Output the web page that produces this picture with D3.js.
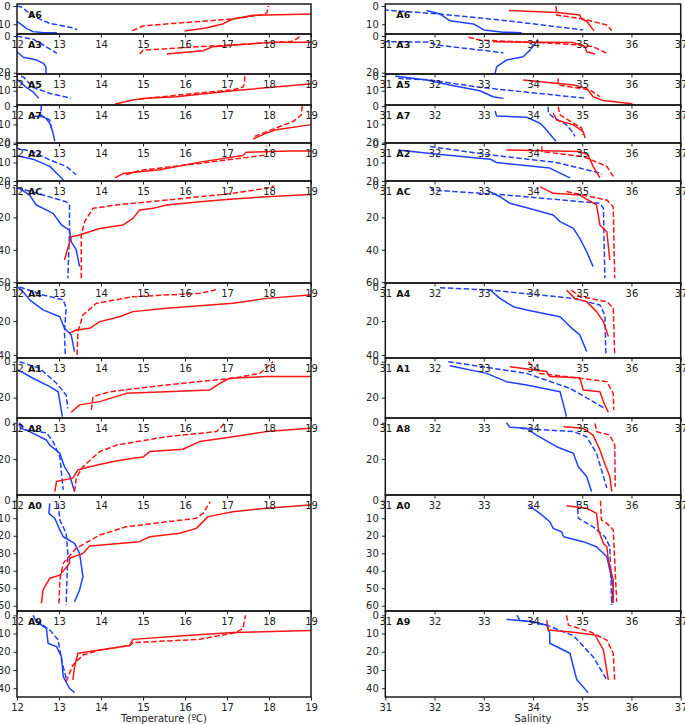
<!DOCTYPE html>
<html>
<head>
<meta charset="utf-8">
<script src="https://cdn.jsdelivr.net/npm/d3@7"></script>
<style>
  body { margin: 0; background: #fff; }
  svg text { font-family: "DejaVu Sans", sans-serif; }
</style>
</head>
<body>
<div id="chart"></div>
<script>
// station names, top to bottom
var stations = ["A6", "A3", "A5", "A7", "A2", "AC", "A4", "A1", "A8", "A0", "A9"];
// depth axis range of each panel (m, top -> bottom)
var depthMin = [-1.1, -1.1, -1.36, -0.55, -0.54, -2.5, -2.35, -2.05, -2.6, -3.26, -2.36];
var depthMax = [15.3, 20.7, 19.7, 20.2, 20, 60.5, 41.8, 31.3, 39.8, 63, 44.8];
var depthTicks = [[0, 10], [0, 20], [0, 10], [0, 10, 20], [0, 10, 20], [0, 20, 40, 60],
  [0, 20, 40], [0, 20], [0, 20], [0, 10, 20, 30, 40, 50, 60], [0, 10, 20, 30, 40]];
var tempTicks = [12, 13, 14, 15, 16, 17, 18, 19];
var salTicks = [31, 32, 33, 34, 35, 36, 37];

// profiles: [value, depth], one list per station in the order above
var tempBlueSolid = [
  [[11.9,7.5],[12.0,8.6],[12.1,10],[12.22,12.2],[12.38,14],[12.6,14.5],[12.95,14.6]],
  [[11.95,8],[12.03,9.1],[12.15,11.6],[12.47,13.1],[12.63,14.9],[12.69,17],[12.69,20.4]],
  [[11.95,1.5],[12.02,2.7],[12.22,7.7],[12.38,10.7],[12.52,15.2]],
  [[12.38,4],[12.38,5.4],[12.62,5.8],[12.7,7],[12.78,9.4],[12.85,14],[12.9,19.3]],
  [[11.95,6],[12.0,6.4],[12.38,8.2],[12.78,12.1],[12.98,16.6],[13.1,19.3],[13.15,20.5]],
  [[12.0,1.5],[12.06,2],[12.3,6.2],[12.46,12.3],[12.86,17.5],[13.06,24.7],[13.25,27.8],[13.29,35],[13.41,40],[13.49,50.4]],
  [[12.02,0],[12.15,3],[12.3,7.6],[12.62,13.5],[13.02,17.5],[13.13,24.3],[13.29,28.2],[13.37,38]],
  [[11.95,4.3],[12.02,4.6],[12.38,9.2],[12.78,13.9],[12.98,16.7],[13.02,22.2],[13.08,30.5]],
  [[12.06,0],[12.08,3],[12.3,4.9],[12.7,9.5],[12.78,12.3],[13.02,16.8],[13.13,24.2],[13.25,28.7],[13.37,37.9]],
  [[12.78,1.5],[12.76,7.2],[12.9,10],[13.02,16.7],[13.1,20.6],[13.37,24.4],[13.49,30.1],[13.57,43.4],[13.49,51],[13.37,57.7]],
  [[12.38,0],[12.46,3.5],[12.7,7.1],[12.74,15.3],[12.94,17.2],[13.06,22.7],[13.1,33.6],[13.25,40],[13.37,42.4]]
];
var tempBlueDashed = [
  [[12.0,0],[12.1,0.5],[12.38,5.5],[12.78,9.5],[13.29,11.7],[13.43,13]],
  [[12.0,0],[12.03,0.2],[12.39,1.8],[12.63,4.9],[12.95,9.5]],
  [[12.1,0],[12.16,0.9],[12.38,7.7],[12.78,11.8],[13.29,15.2]],
  [[12.58,0],[12.56,4.9],[12.78,7.6],[12.82,12]],
  [[11.95,2],[12.0,2.3],[12.38,4.1],[12.78,8.6],[13.17,12.1],[13.41,16.6]],
  [[12.0,1.8],[12.06,2],[12.62,6.2],[13.17,10.3],[13.25,12.3],[13.25,28.8],[13.21,57.6]],
  [[12.06,0],[12.62,4.7],[13.1,7.6],[13.17,12.5],[13.13,26.3],[13.15,40]],
  [[12.06,0],[12.54,3.7],[12.94,12],[13.17,18.5],[13.21,25.9]],
  [[12.06,0.5],[12.22,4],[12.7,5.5],[12.86,10.4],[13.02,18.7],[13.1,37]],
  [[12.98,1.5],[13.02,11],[13.17,18.6],[13.21,30.1],[13.17,59.6]],
  [[12.46,3],[12.78,8],[12.98,13.5],[13.06,24.5],[13.17,34.5]]
];
var tempRedSolid = [
  [[15.99,13.7],[16.5,12],[16.9,9.8],[17.14,7.1],[17.62,5.1],[18.5,4.6],[19.5,4.2]],
  [[15.56,9.8],[16.43,8],[16.67,5.8],[17.94,3.6],[19.5,3.3]],
  [[14.33,19],[14.76,16.3],[15.0,15.2],[15.79,14.1],[17.14,10],[18.97,5.4],[19.5,4.2]],
  [[17.62,18],[17.94,14.8],[18.17,13],[18.97,10.3],[19.5,9]],
  [[14.33,18.3],[14.52,16],[15.4,13.9],[16.35,9.8],[17.38,6.2],[17.46,4.5],[18.5,3.8],[19.5,3.7]],
  [[13.13,46.3],[13.29,31.9],[13.49,30.9],[13.97,26.8],[14.52,24.7],[14.76,20.6],[14.92,15.4],[15.24,14.4],[15.56,12.3],[16.35,10.3],[17.14,8.6],[17.94,7.2],[18.97,5.8],[19.5,5.5]],
  [[13.25,27.2],[13.41,25.3],[13.73,24.3],[13.97,20.4],[14.44,17.5],[14.76,14.5],[15.56,12.5],[17.14,9.6],[17.94,6.7],[18.97,4.7],[19.5,4]],
  [[13.29,28.1],[13.49,24],[13.97,22.2],[14.6,17.6],[15.56,16.7],[16.59,15.7],[16.83,12],[17.06,9.2],[17.94,8.3],[19.5,8.2]],
  [[12.9,37.9],[12.94,32.4],[13.33,30.5],[13.45,26],[13.73,24.2],[14.29,21.4],[14.76,19.6],[15.0,18.9],[15.16,15.9],[15.95,14.6],[16.35,10.4],[17.14,7.7],[17.94,4.9],[18.97,3.1],[19.5,2.8]],
  [[12.58,58.6],[12.62,51],[12.78,44.3],[13.02,42.5],[13.25,35.8],[13.25,32.9],[13.57,30.1],[13.73,25.9],[14.92,23.4],[15.16,20.6],[15.87,18.6],[16.27,15.8],[16.55,9.1],[17.14,6.3],[17.94,4.3],[18.97,2.5],[19.5,2.2]],
  [[13.33,35.4],[13.37,28.2],[13.45,20.8],[13.97,19],[14.68,16.6],[14.76,13.2],[15.95,11.2],[17.14,9.4],[18.97,8.4],[19.5,8.2]]
];
var tempRedDashed = [
  [[14.75,13.5],[15.0,10.9],[15.56,9.8],[17.14,7.1],[17.86,4.7],[17.95,3.6],[17.99,0]],
  [[14.92,9.8],[15.0,7.7],[16.35,5.8],[18.57,2.9],[18.75,0]],
  [[14.9,15.8],[15.3,14.5],[16.0,12.5],[17.15,9.3],[17.38,7.5],[17.42,5],[17.42,0]],
  [[17.66,16.6],[17.94,14],[18.57,8.5],[18.77,4.9],[18.79,0]],
  [[14.6,16.6],[14.92,14.3],[16.35,10.5],[17.94,5.9],[17.94,0.9]],
  [[13.53,57.6],[13.53,30.9],[13.61,22.6],[13.81,14.4],[14.37,12.3],[15.56,9.3],[17.14,5.1],[17.94,2],[18.13,0.5]],
  [[13.43,40],[13.45,26.3],[13.57,16.5],[13.89,9.6],[14.76,5.7],[16.35,3.7],[16.71,1.8],[16.75,0]],
  [[13.77,26.8],[13.81,19.4],[14.21,16.7],[15.56,12.9],[17.14,9.2],[17.78,6.5],[18.1,0]],
  [[13.37,37.9],[13.41,30.5],[13.57,24.2],[13.97,15.9],[14.37,12.3],[15.56,7.7],[16.75,4.9],[16.94,0.4]],
  [[13.0,58.6],[13.02,45.3],[13.1,35.8],[13.41,27.2],[13.97,19.6],[14.6,14.9],[16.27,10],[16.43,7.2],[16.6,0.6]],
  [[13.17,36.4],[13.33,27.3],[13.57,21.8],[13.97,19],[14.68,16.6],[14.76,15],[16.35,13.2],[17.22,9.4],[17.38,7.1],[17.44,0]]
];
var salBlueSolid = [
  [[31.84,2.5],[32.11,4.4],[32.31,8],[32.79,9.8],[33.0,13.1],[33.4,14.3],[33.77,14.6]],
  [[34.1,1.8],[34.07,3.1],[33.94,7.7],[33.8,11.3],[33.46,13.1],[33.26,16.8],[33.23,20.4]],
  [[31.2,0],[31.84,2.7],[32.31,6.1],[32.92,10],[33.19,14.1],[33.4,15.2]],
  [[33.23,2.7],[33.26,5.4],[33.87,6.1],[34.14,9.4],[34.24,12],[34.41,17.5],[34.47,19.3]],
  [[31.26,3.2],[31.97,5.3],[33.13,8.2],[33.26,10],[34.34,13],[34.75,18.3]],
  [[33.06,3.1],[33.33,7.2],[33.53,11.3],[33.8,13.4],[34.41,18.5],[34.55,22.6],[34.82,26.8],[34.95,32.9],[35.09,41.2],[35.22,50.4]],
  [[33.13,1.8],[33.33,6.7],[33.6,11.6],[33.87,13.5],[34.55,17.5],[34.75,23.3],[34.95,28.2],[35.09,38]],
  [[32.31,2.2],[33.06,6.5],[33.46,11.1],[33.87,12.9],[34.55,16.7],[34.62,24],[34.68,30.5]],
  [[33.46,0],[33.53,2.5],[33.87,3.1],[34.07,6.8],[34.48,13.2],[34.82,16.8],[34.92,24.2],[35.09,29.6],[35.19,37.9]],
  [[33.9,2.5],[34.14,7.2],[34.34,12],[34.41,15.8],[34.58,17.7],[34.62,20.6],[35.02,23.4],[35.29,26.3],[35.5,32],[35.56,39.7],[35.63,49.1],[35.6,58.6]],
  [[33.46,2.2],[34.01,3.5],[34.28,5.4],[34.34,9.9],[34.34,15.3],[34.75,20.8],[34.82,28.2],[34.89,35.4],[35.12,42.4]]
];
var salBlueDashed = [
  [[30.8,2],[31.0,2.2],[32.11,4.4],[33.46,8],[35.02,13.1]],
  [[30.8,3],[31.0,3.1],[31.9,3.3],[32.04,4.9],[33.4,9.1]],
  [[31.26,1.6],[31.91,2.7],[32.92,7.7],[35.09,15.2]],
  [[34.31,0.4],[34.31,3.8],[34.41,6.1],[34.68,10.3],[34.82,14.8],[34.85,16.6]],
  [[31.91,1.4],[33.13,5.9],[34.48,10],[35.36,15.7],[35.39,16.6]],
  [[31.91,1],[31.97,3.1],[33.46,6.2],[35.36,11.3],[35.43,14.4],[35.46,57.6]],
  [[32.11,0.4],[33.13,1.8],[34.82,6.7],[35.36,10.6],[35.46,16.5],[35.48,40]],
  [[32.28,0],[33.87,6.5],[34.75,14.8],[35.43,25.5]],
  [[33.74,3.1],[34.82,4.9],[35.09,7.7],[35.29,16.8],[35.5,36]],
  [[34.9,0],[34.92,10],[35.22,14.9],[35.46,20.6],[35.56,26.3],[35.6,59.6]],
  [[33.67,0],[33.74,2.7],[34.28,5.4],[34.82,11.2],[35.22,22.7],[35.5,35.4]]
];
var salRedSolid = [
  [[33.51,2.5],[34.5,3.5],[34.95,4.9],[34.99,7.1],[35.09,8.3],[35.24,13.6]],
  [[33.19,3.1],[34.82,3.6],[35.06,5.8],[35.09,8.6],[35.26,9.8]],
  [[33.8,2.7],[34.82,6.1],[35.09,8.4],[35.22,14.1],[35.43,16.7],[35.97,18.6],[36.02,19]],
  [[34.41,3.8],[34.48,7.6],[34.82,10.3],[35.02,14],[35.06,17.5]],
  [[33.46,3.2],[34.95,4.1],[35.12,5.9],[35.22,12.1],[35.36,18.3]],
  [[34.14,1],[34.41,5.1],[34.95,6.2],[35.29,12.3],[35.36,24.7],[35.5,28.8],[35.56,46.3]],
  [[34.68,1.8],[34.85,6.7],[35.09,8.6],[35.29,14.5],[35.43,20.4],[35.53,29.2]],
  [[33.53,2.8],[34.28,5.5],[34.34,8.3],[34.95,8.9],[35.02,15.7],[35.36,16.7],[35.43,22.2],[35.53,28.1]],
  [[34.62,2.2],[35.02,3.1],[35.22,6.8],[35.36,15],[35.43,20.5],[35.56,29.6],[35.6,37.9]],
  [[34.68,2.9],[35.09,4.3],[35.29,7.2],[35.33,16.7],[35.43,24.4],[35.5,26.3],[35.53,34],[35.63,45.4],[35.63,58.6]],
  [[34.28,2.7],[34.31,8],[34.82,9.3],[35.26,10.8],[35.43,19],[35.53,35.4]]
];
var salRedDashed = [
  [[34.47,0],[34.48,4.9],[35.02,7.1],[35.5,10.4],[35.6,13.5]],
  [[32.69,0.7],[32.92,2.2],[34.14,3.6],[34.95,4.9],[35.22,5.8],[35.53,9.8]],
  [[34.51,1.6],[34.51,6.1],[35.16,9.5],[35.36,14.1]],
  [[34.51,0.4],[34.55,4.9],[34.82,9.4],[34.99,12],[35.02,15.9]],
  [[34.18,1.4],[34.18,4.1],[35.02,6.8],[35.5,12.1],[35.63,17.5]],
  [[34.68,4],[35.5,9.3],[35.63,13.4],[35.66,57.6]],
  [[34.78,1.8],[34.95,5.7],[35.5,8.6],[35.63,12.5],[35.66,40]],
  [[33.9,0],[34.14,6.5],[35.5,11.1],[35.63,17.6],[35.64,26.8]],
  [[35.26,0.4],[35.29,4.9],[35.56,6.8],[35.66,12.3],[35.67,35.2]],
  [[35.37,0],[35.39,11],[35.5,12.9],[35.63,16.7],[35.7,57.7]],
  [[34.68,0],[34.72,5.4],[35.16,9],[35.5,13.6],[35.63,20.8],[35.66,36.4]]
];

// layout
var width = 685, height = 724;
var rowEdges = [4, 34, 74, 105, 143, 181, 283, 358, 418, 495, 611, 697];
var blue = "#1f40ff", red = "#ff1414";

var svg = d3.select("#chart").append("svg")
  .attr("width", width)
  .attr("height", height);

var columns = [
  { x0: 17, x1: 311, domain: [12, 19], ticks: tempTicks, title: "Temperature (ºC)",
    series: [[tempBlueSolid, blue, false], [tempBlueDashed, blue, true], [tempRedSolid, red, false], [tempRedDashed, red, true]] },
  { x0: 385.3, x1: 680.7, domain: [31, 37], ticks: salTicks, title: "Salinity",
    series: [[salBlueSolid, blue, false], [salBlueDashed, blue, true], [salRedSolid, red, false], [salRedDashed, red, true]] }
];

var defs = svg.append("defs");
var linesLayer = svg.append("g");
var axesLayer = svg.append("g");

columns.forEach(function(col, ci) {
  var x = d3.scaleLinear().domain(col.domain).range([col.x0, col.x1]);

  stations.forEach(function(name, i) {
    var top = rowEdges[i], bottom = rowEdges[i + 1];
    var y = d3.scaleLinear().domain([depthMin[i], depthMax[i]]).range([top, bottom]);
    var clipId = "clip" + ci + "_" + i;

    defs.append("clipPath").attr("id", clipId)
      .append("rect")
      .attr("x", col.x0).attr("y", top)
      .attr("width", col.x1 - col.x0).attr("height", bottom - top);

    var line = d3.line()
      .x(function(d) { return x(d[0]); })
      .y(function(d) { return y(d[1]); });

    var g = linesLayer.append("g").attr("clip-path", "url(#" + clipId + ")");
    col.series.forEach(function(s) {
      g.append("path")
        .attr("d", line(s[0][i]))
        .attr("fill", "none")
        .attr("stroke", s[1])
        .attr("stroke-width", 1.5)
        .attr("stroke-linejoin", "round")
        .attr("stroke-dasharray", s[2] ? "5.5,2.4" : null);
    });

    // frame
    axesLayer.append("rect")
      .attr("x", col.x0).attr("y", top)
      .attr("width", col.x1 - col.x0).attr("height", bottom - top)
      .attr("fill", "none")
      .attr("stroke", "#1a1a1a")
      .attr("stroke-width", 1.5);

    var xAxis = axesLayer.append("g")
      .attr("transform", "translate(0," + bottom + ")")
      .call(d3.axisBottom(x).tickValues(col.ticks).tickFormat(d3.format("d"))
        .tickSize(3.5).tickPadding(3));
    var yAxis = axesLayer.append("g")
      .attr("transform", "translate(" + col.x0 + ",0)")
      .call(d3.axisLeft(y).tickValues(depthTicks[i]).tickFormat(d3.format("d"))
        .tickSize(3.5).tickPadding(3));

    [xAxis, yAxis].forEach(function(a) {
      a.select(".domain").remove();
      a.selectAll("line").attr("stroke", "#222").attr("stroke-width", 1);
      a.selectAll("text").attr("fill", "#222")
        .style("font-family", "DejaVu Sans, sans-serif").style("font-size", "10px");
    });

    axesLayer.append("text")
      .attr("x", col.x0 + 11)
      .attr("y", top + 14)
      .attr("font-size", "9.5px")
      .attr("font-weight", "bold")
      .attr("fill", "#111")
      .text(name);
  });

  axesLayer.append("text")
    .attr("x", (col.x0 + col.x1) / 2)
    .attr("y", 722)
    .attr("text-anchor", "middle")
    .attr("font-size", "10px")
    .attr("fill", "#222")
    .text(col.title);
});
</script>
</body>
</html>
